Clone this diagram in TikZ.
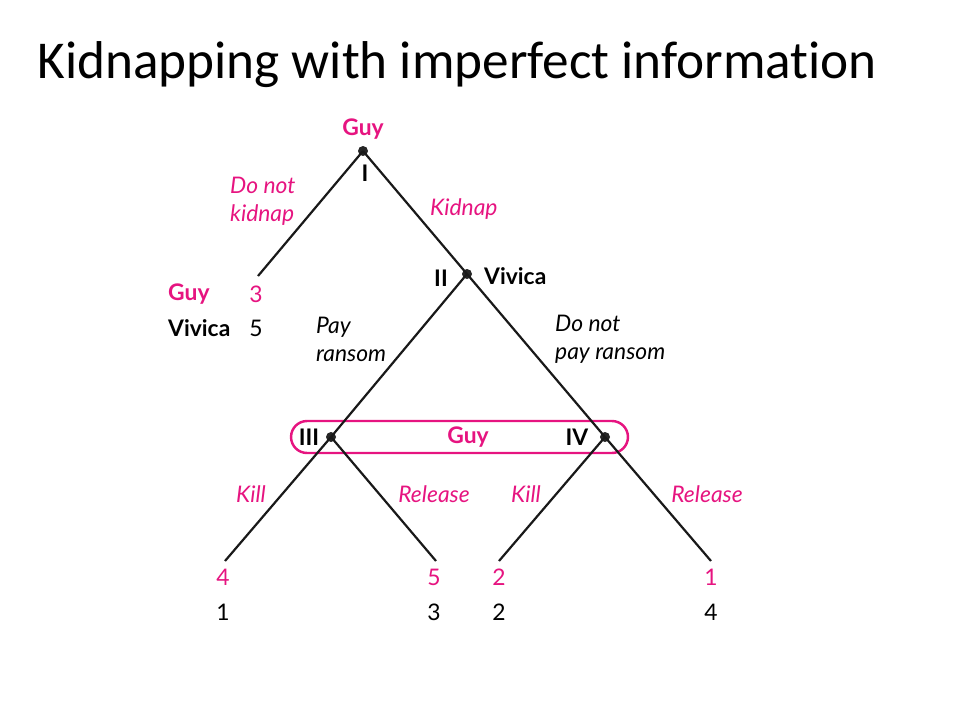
\documentclass[tikz,border=0pt]{standalone}
\usepackage{fontspec}
\setmainfont{Lato}
\newfontfamily\titlefont[Ligatures=NoCommon]{Carlito}
\definecolor{guypink}{RGB}{230,20,128}

\begin{document}
\begin{tikzpicture}[
    x=0.02cm, y=-0.02cm,
    font=\fontsize{13}{16}\selectfont,
    dot/.style={circle,fill=black!85,inner sep=0pt,minimum size=0.2cm},
    branch/.style={draw=black!90,line width=1.25pt},
    move/.style={font=\fontsize{13}{16}\selectfont\itshape,align=left},
    player/.style={font=\fontsize{13}{16}\selectfont\bfseries},
    infoset/.style={draw=guypink,line width=1.4pt,rounded corners=0.32cm,minimum width=6.74cm,minimum height=0.64cm},
    ]
    \useasboundingbox (0,0) rectangle (960,720);
    \node[anchor=base west,inner sep=0pt,font=\titlefont\fontsize{30.3}{36}\selectfont] (title) at (37,78) {Kidnapping with imperfect information};

    % decision nodes
    \node[infoset] (info) at (459.5,437) {};
    \node[dot] (n1) at (363,151) {};
    \node[dot] (n2) at (467,274) {};
    \node[dot] (n3) at (331,437) {};
    \node[dot] (n4) at (605,437) {};
    \coordinate (l0) at (258,276);
    \coordinate (l1) at (225,561);
    \coordinate (l2) at (436,561);
    \coordinate (l3) at (499,561);
    \coordinate (l4) at (711,561);

    % branches
    \draw[branch] (n1.center) -- (l0);
    \draw[branch] (n1.center) -- (n2.center);
    \draw[branch] (n2.center) -- (n3.center);
    \draw[branch] (n2.center) -- (n4.center);
    \draw[branch] (n3.center) -- (l1);
    \draw[branch] (n3.center) -- (l2);
    \draw[branch] (n4.center) -- (l3);
    \draw[branch] (n4.center) -- (l4);

    % players
    \node[player,text=guypink] (g1) at (363,129) {Guy};
    \node[player] (r1) at (365,173) {I};
    \node[player] (r2) at (441,278) {II};
    \node[player,anchor=west] (v2) at (478,276) {Vivica};
    \node[player] (r3) at (309,437) {III};
    \node[player] (r4) at (577,437) {IV};
    \node[player,text=guypink] (g3) at (468,437) {Guy};

    % moves
    \node[move,text=guypink,anchor=west] (m1) at (224,201) {Do not\\kidnap};
    \node[move,text=guypink,anchor=west] (m2) at (424,209) {Kidnap};
    \node[move,anchor=west] (m3) at (310,339) {Pay\\ransom};
    \node[move,anchor=west] (m4) at (549,339) {Do not\\pay ransom};
    \node[move,text=guypink] (m5) at (251,494) {Kill};
    \node[move,text=guypink] (m6) at (434,494) {Release};
    \node[move,text=guypink] (m7) at (526,494) {Kill};
    \node[move,text=guypink] (m8) at (707,494) {Release};

    % payoffs
    \node[player,text=guypink,anchor=west] (k1) at (162,294) {Guy};
    \node[player,anchor=west] (k2) at (162,328) {Vivica};
    \node[text=guypink] (p0g) at (256,294) {3};
    \node (p0v) at (256,328) {5};
    \node[text=guypink] (p1g) at (223,577) {4};
    \node (p1v) at (223,612) {1};
    \node[text=guypink] (p2g) at (434,577) {5};
    \node (p2v) at (434,612) {3};
    \node[text=guypink] (p3g) at (499,577) {2};
    \node (p3v) at (499,612) {2};
    \node[text=guypink] (p4g) at (711,577) {1};
    \node (p4v) at (711,612) {4};
\end{tikzpicture}
\end{document}
